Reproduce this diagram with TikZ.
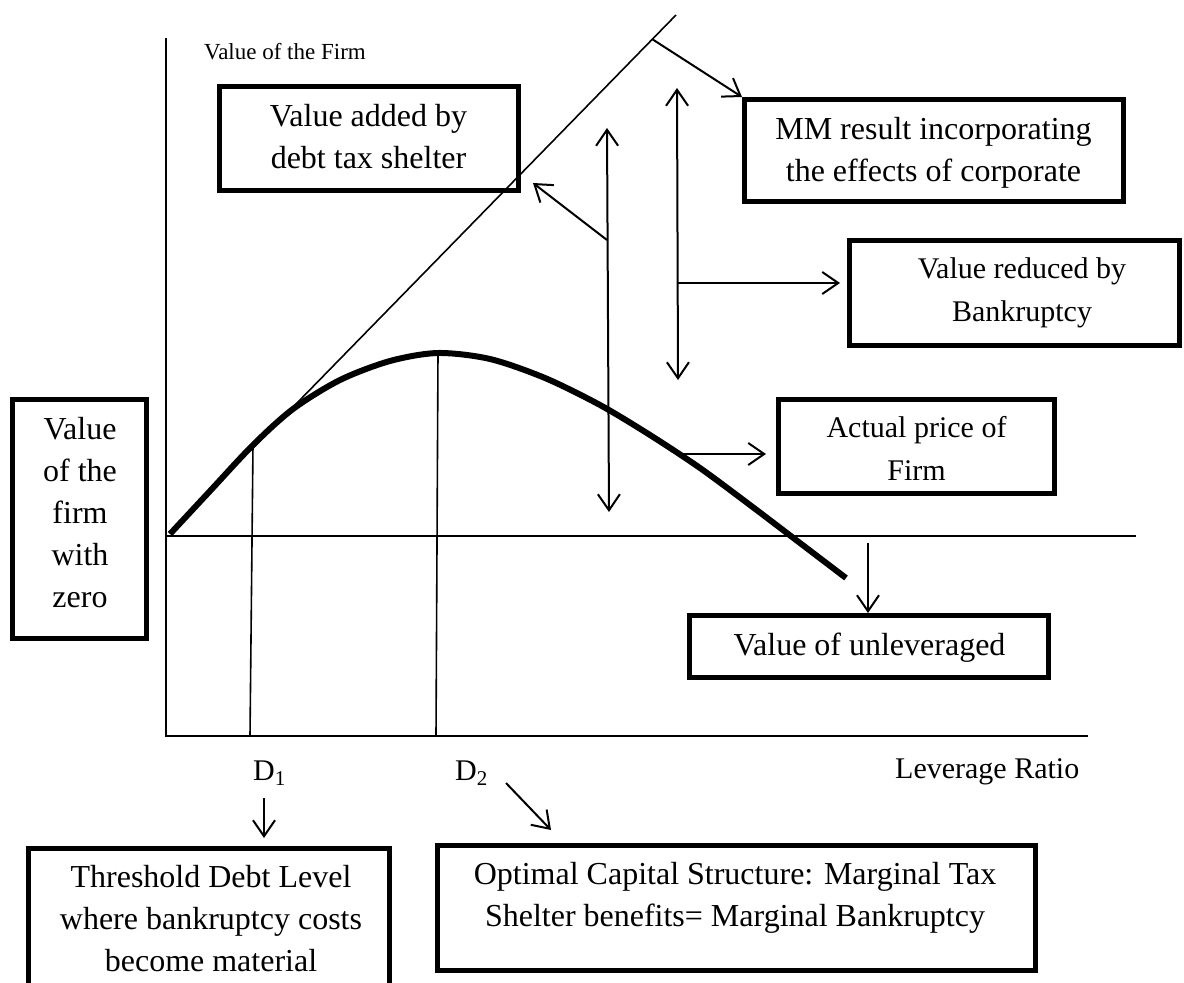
\documentclass[tikz,border=0pt]{standalone}
\usepackage{fontspec}
\setmainfont{Liberation Serif}
\usetikzlibrary{arrows.meta,calc}
\tikzset{
  boxb/.style={draw, line width=5pt, rectangle, inner sep=0pt},
  txt/.style={font=\fontsize{32}{42}\selectfont, align=center, inner sep=0pt},
  gtxt/.style={font=\fontsize{30}{43}\selectfont, align=center, inner sep=0pt},
  smlab/.style={font=\fontsize{23}{28}\selectfont, inner sep=0pt},
  glab/.style={font=\fontsize{30}{36}\selectfont, inner sep=0pt},
  thinline/.style={line width=2pt},
  hair/.style={line width=1.6pt},
  arr/.style={line width=2pt, -{Straight Barb[length=16pt,width=22pt]}},
  darr/.style={line width=2pt, {Straight Barb[length=16pt,width=22pt]}-{Straight Barb[length=16pt,width=22pt]}},
}
\begin{document}
\begin{tikzpicture}[x=1pt,y=-1pt]
\useasboundingbox (0,0) rectangle (1184,983);
\clip (0,0) rectangle (1184,983);
\fill[white] (0,0) rectangle (1184,983);

% axes and reference lines
\coordinate (Ytop) at (166,38);
\coordinate (O) at (166,736);
\coordinate (Xend) at (1088,736);
\coordinate (H0) at (166,536);
\coordinate (H1) at (1136,536);
\draw[thinline] (Ytop) -- (O) -- (Xend);
\draw[thinline] (H0) -- (H1);

% MM tangent line
\coordinate (T0) at (255,446);
\coordinate (T1) at (676,15);
\draw[hair] (T0) -- (T1);

% D1 and D2 drop lines
\coordinate (P1) at (253,445);
\coordinate (P1b) at (250,736);
\coordinate (P2) at (438,353);
\coordinate (P2b) at (436,736);
\draw[hair] (P1) -- (P1b);
\draw[hair] (P2) -- (P2b);

% value curve
\draw[line width=6pt] plot[smooth, tension=0.5] coordinates {(170,534) (210,491) (253,445) (293,409) (340,380) (390,361) (438,353) (490,359) (545,378) (600,405) (650,435) (700,468) (750,505) (800,543) (846,578)};

% boxes
\node[boxb, minimum width=299pt, minimum height=104pt] (b1) at (369,138.5) {};
\node[txt] (t1) at (368.5,136.5) {Value added by\\debt tax shelter};

\node[boxb, minimum width=379pt, minimum height=102pt] (b2) at (934,150.5) {};
\node[txt] (t2) at (933.5,152.5) {MM result incorporating\\the effects of corporate};

\node[boxb, minimum width=330pt, minimum height=105pt] (b3) at (1014.5,293) {};
\node[gtxt] (t3) at (1022,293) {Value reduced by\\Bankruptcy};

\node[boxb, minimum width=276pt, minimum height=94pt] (b4) at (916.5,446.5) {};
\node[gtxt] (t4) at (916.5,448) {Actual price of\\Firm};

\node[boxb, minimum width=359pt, minimum height=62pt] (b5) at (869,646.5) {};
\node[txt] (t5) at (869.5,647.5) {Value of unleveraged};

\node[boxb, minimum width=134pt, minimum height=239pt] (b6) at (79.5,519) {};
\node[txt] (t6) at (80,512.5) {Value\\of the\\firm\\with\\zero};

\node[boxb, minimum width=361pt, minimum height=141.5pt] (b7) at (209,919.25) {};
\node[txt] (t7) at (211,919) {Threshold Debt Level\\where bankruptcy costs\\become material};

\node[boxb, minimum width=598pt, minimum height=125pt] (b8) at (736.5,908) {};
\node[txt] (t8) at (735,897.5) {Optimal Capital Structure: Marginal Tax\\Shelter benefits= Marginal Bankruptcy};

% labels
\node[smlab, anchor=base west] (vf) at (204,59) {Value of the Firm};
\node[glab, anchor=base west] (d1) at (253,780) {D\textsubscript{1}};
\node[glab, anchor=base west] (d2) at (455,780) {D\textsubscript{2}};
\node[glab, anchor=base west] (lr) at (895,778) {Leverage Ratio};

% arrows
\coordinate (m0) at (652,39);
\draw[arr] (m0) -- (b2.north west);

\coordinate (v1a) at (677,88);
\coordinate (v1b) at (678,380);
\draw[darr] (v1a) -- (v1b);
\coordinate (v1m) at (677,283);
\draw[arr, shorten >=7pt] (v1m) -- (v1m -| b3.west);

\coordinate (v2a) at (607,128);
\coordinate (v2b) at (609,512);
\draw[darr] (v2a) -- (v2b);
\coordinate (v2m) at (607,240);
\coordinate (v2t) at (533,183);
\draw[arr] (v2m) -- (v2t);

\coordinate (cA) at (680,454);
\draw[arr, shorten >=10pt] (cA) -- (cA -| b4.west);

\coordinate (u0) at (868,543);
\draw[arr] (u0) -- (u0 |- b5.north);

\coordinate (d1a) at (264,798);
\draw[arr, shorten >=8pt] (d1a) -- (d1a |- b7.north);

\coordinate (d2a) at (506,783);
\coordinate (d2b) at (551,830);
\draw[arr] (d2a) -- (d2b);
\end{tikzpicture}
\end{document}
